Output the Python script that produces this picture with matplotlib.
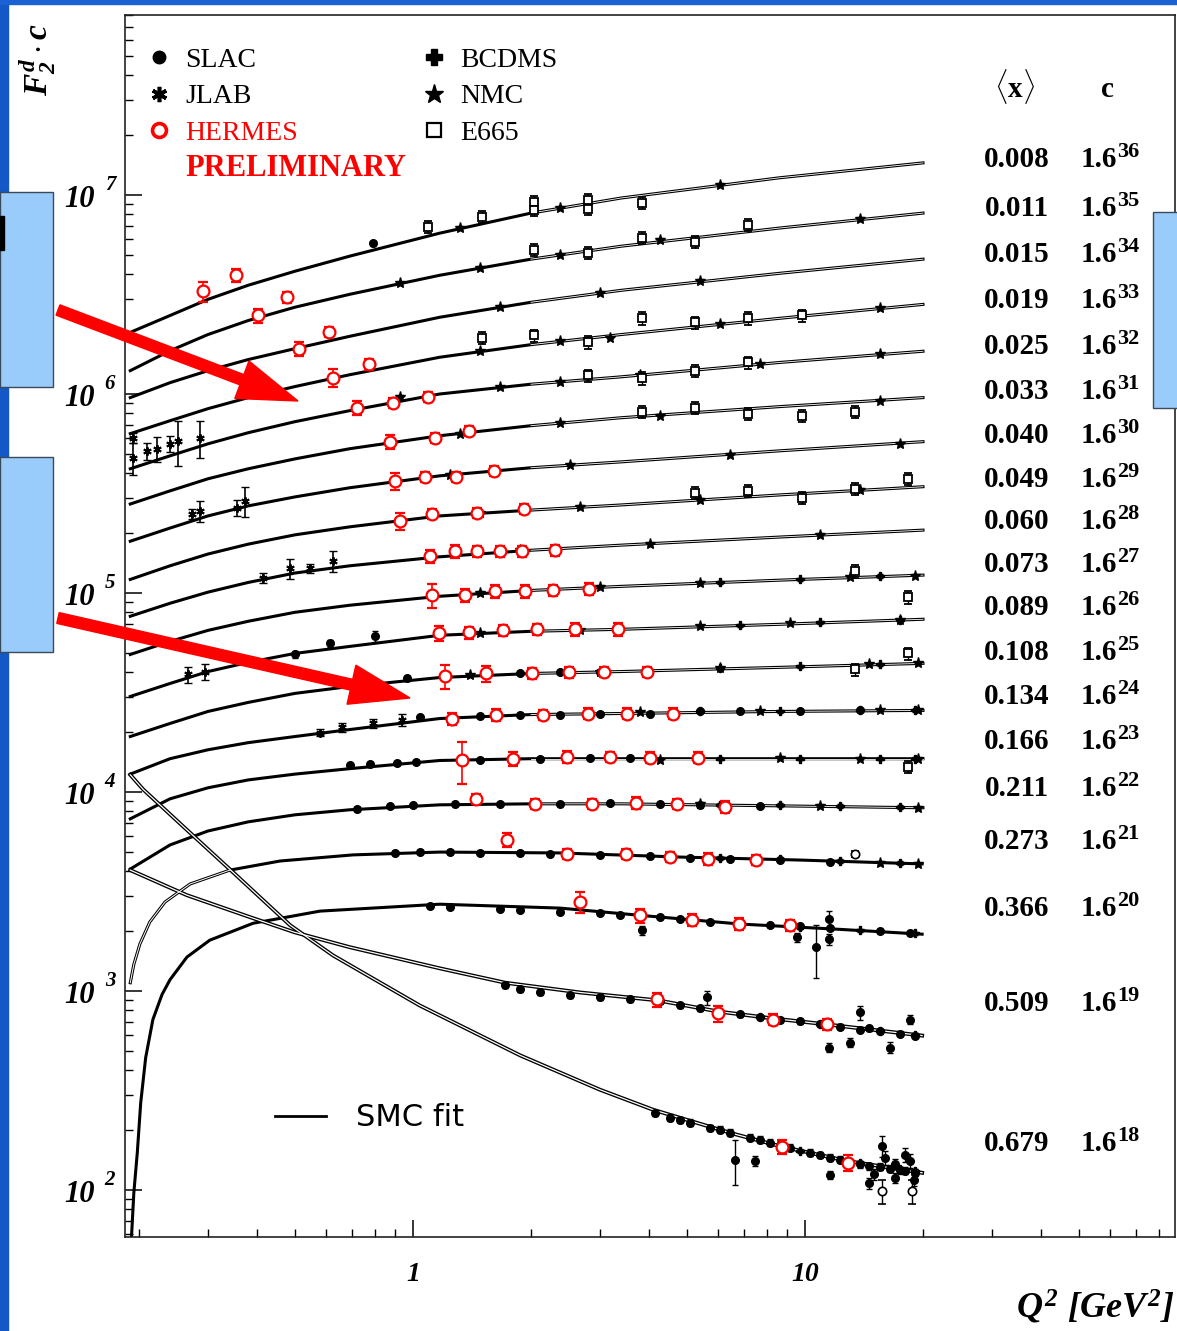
import numpy as np
import matplotlib
matplotlib.use('Agg')
import matplotlib.pyplot as plt
from matplotlib.patches import Rectangle, Polygon
from matplotlib.lines import Line2D
from matplotlib.ticker import NullFormatter
from matplotlib.transforms import Affine2D

plt.rcParams['font.family'] = ['Liberation Serif', 'DejaVu Serif']
plt.rcParams['mathtext.fontset'] = 'custom'
plt.rcParams['mathtext.rm'] = 'Liberation Serif:italic:bold'
plt.rcParams['mathtext.it'] = 'Liberation Serif:italic:bold'
plt.rcParams['mathtext.bf'] = 'Liberation Serif:bold'

# ---- data (F2^d * c versus Q^2) ----
x_bins = ['0.008', '0.011', '0.015', '0.019', '0.025', '0.033', '0.040', '0.049',
          '0.060', '0.073', '0.089', '0.108', '0.134', '0.166', '0.211', '0.273',
          '0.366', '0.509', '0.679']
c_powers = [36, 35, 34, 33, 32, 31, 30, 29, 28, 27, 26, 25, 24, 23, 22, 21, 20, 19, 18]

# SMC fit curves, low x bins on a common Q^2 grid
fit_q2 = [0.19, 0.24, 0.30, 0.38, 0.50, 0.69, 1.17, 2.0, 3.4, 8.6, 20.0]
fit_008 = [2.04e6, 2.48e6, 2.99e6, 3.52e6, 4.14e6, 4.93e6, 6.43e6, 8.11e6, 9.66e6, 1.22e7, 1.45e7]
fit_011 = [1.31e6, 1.65e6, 1.99e6, 2.34e6, 2.73e6, 3.17e6, 3.95e6, 4.76e6, 5.53e6, 6.82e6, 8.11e6]
fit_015 = [9.59e5, 1.14e6, 1.31e6, 1.49e6, 1.69e6, 1.95e6, 2.43e6, 2.89e6, 3.32e6, 4.04e6, 4.76e6]
fit_019 = [6.32e5, 7.34e5, 8.44e5, 9.59e5, 1.09e6, 1.25e6, 1.53e6, 1.77e6, 1.99e6, 2.40e6, 2.82e6]
fit_025 = [4.21e5, 4.89e5, 5.62e5, 6.39e5, 7.26e5, 8.25e5, 1.00e6, 1.12e6, 1.22e6, 1.44e6, 1.64e6]
fit_033 = [2.80e5, 3.26e5, 3.75e5, 4.21e5, 4.72e5, 5.31e5, 6.17e5, 6.93e5, 7.60e5, 8.64e5, 9.59e5]
fit_040 = [1.82e5, 2.12e5, 2.44e5, 2.74e5, 3.04e5, 3.38e5, 3.88e5, 4.26e5, 4.56e5, 5.18e5, 5.76e5]
fit_049 = [1.17e5, 1.37e5, 1.57e5, 1.76e5, 1.96e5, 2.15e5, 2.44e5, 2.61e5, 2.77e5, 3.11e5, 3.42e5]
fit_060 = [7.64e4, 8.88e4, 1.01e5, 1.13e5, 1.26e5, 1.37e5, 1.52e5, 1.64e5, 1.74e5, 1.91e5, 2.07e5]
fit_073 = [4.91e4, 5.71e4, 6.49e4, 7.21e4, 8.00e4, 8.68e4, 9.63e4, 1.03e5, 1.08e5, 1.16e5, 1.23e5]
fit_089 = [3.02e4, 3.51e4, 4.03e4, 4.48e4, 4.97e4, 5.39e4, 6.13e4, 6.42e4, 6.57e4, 6.96e4, 7.38e4]
fit_108 = [1.90e4, 2.21e4, 2.54e4, 2.82e4, 3.13e4, 3.39e4, 3.76e4, 3.94e4, 4.03e4, 4.23e4, 4.43e4]
fit_134 = [1.23e4, 1.47e4, 1.63e4, 1.77e4, 1.90e4, 2.06e4, 2.34e4, 2.45e4, 2.48e4, 2.54e4, 2.57e4]
fit_166 = [7.33e3, 9.24e3, 1.05e4, 1.15e4, 1.23e4, 1.31e4, 1.44e4, 1.47e4, 1.47e4, 1.47e4, 1.47e4]
fit_211 = [4.10e3, 5.42e3, 6.37e3, 7.08e3, 7.68e3, 8.14e3, 8.62e3, 8.72e3, 8.72e3, 8.52e3, 8.33e3]

# high x bins, own Q^2 samples
fit_q2_273 = [0.190, 0.194, 0.201, 0.213, 0.233, 0.270, 0.341, 0.458, 0.703, 1.17, 2.37, 4.80, 9.71, 19.9]
fit_273 = [1.10e3, 1.36e3, 1.72e3, 2.22e3, 2.80e3, 3.45e3, 4.05e3, 4.50e3, 4.83e3, 4.99e3, 4.94e3,
           4.71e3, 4.55e3, 4.35e3]
fit_q2_366 = [0.191, 0.194, 0.198, 0.202, 0.208, 0.217, 0.229, 0.240, 0.265, 0.303, 0.391, 0.579,
              1.17, 2.37, 3.80, 6.83, 12.3, 19.9]
fit_366 = [54.1, 96.6, 154, 274, 463, 719, 961, 1.14e3, 1.48e3, 1.80e3, 2.19e3, 2.52e3,
           2.73e3, 2.61e3, 2.40e3, 2.17e3, 2.04e3, 1.93e3]
fit_q2_509 = [0.190, 0.265, 0.384, 0.500, 0.690, 1.17, 1.72, 2.67, 4.22, 6.00, 8.28, 11.4, 19.9]
fit_509 = [4.05e3, 3.03e3, 2.35e3, 1.97e3, 1.66e3, 1.30e3, 1.10e3, 983, 897, 789, 728, 679, 597]
fit_q2_679 = [0.190, 0.205, 0.265, 0.347, 0.486, 0.625, 1.04, 1.88, 3.00, 4.10, 6.55, 8.74, 12.8, 19.9]
fit_679 = [1.22e4, 1.03e4, 6.45e3, 3.96e3, 2.14e3, 1.51e3, 846, 474, 319, 253, 192, 165, 140, 122]

# HERMES (preliminary)
hermes_q2 = [0.291, 0.353, 0.402, 0.477, 0.512, 0.611, 0.625, 0.772,
             0.720, 0.889, 1.09, 0.874, 1.14, 1.39,
             0.900, 1.07, 1.29, 1.61, 0.927, 1.12, 1.46, 1.92,
             1.105, 1.28, 1.46, 1.67, 1.90, 2.30,
             1.12, 1.36, 1.62, 1.93, 2.28, 2.81,
             1.165, 1.39, 1.70, 2.07, 2.59, 3.33,
             1.21, 1.54, 2.01, 2.50, 3.07, 3.95,
             1.26, 1.63, 2.15, 2.80, 3.52, 4.61,
             1.33, 1.80, 2.47, 3.18, 4.02, 5.33,
             1.45, 2.05, 2.86, 3.71, 4.72, 6.25,
             1.74, 2.47, 3.49, 4.52, 5.66, 7.50,
             2.67, 3.79, 5.15, 6.79, 9.16,
             4.19, 6.00, 8.28, 11.4,
             8.74, 12.9]
hermes_f2c = [3.28e6, 3.95e6, 2.48e6, 3.06e6, 1.69e6, 2.06e6, 1.21e6, 1.41e6,
              8.54e5, 9.05e5, 9.70e5, 5.76e5, 6.03e5, 6.54e5,
              3.66e5, 3.83e5, 3.83e5, 4.11e5, 2.30e5, 2.50e5, 2.52e5, 2.65e5,
              1.53e5, 1.62e5, 1.62e5, 1.62e5, 1.62e5, 1.64e5,
              9.74e4, 9.74e4, 1.02e5, 1.02e5, 1.03e5, 1.05e5,
              6.27e4, 6.34e4, 6.49e4, 6.57e4, 6.57e4, 6.57e4,
              3.81e4, 3.94e4, 3.94e4, 3.99e4, 4.03e4, 4.03e4,
              2.34e4, 2.45e4, 2.45e4, 2.48e4, 2.48e4, 2.48e4,
              1.44e4, 1.47e4, 1.50e4, 1.50e4, 1.49e4, 1.49e4,
              9.24e3, 8.72e3, 8.72e3, 8.82e3, 8.72e3, 8.42e3,
              5.74e3, 4.88e3, 4.88e3, 4.71e3, 4.61e3, 4.55e3,
              2.80e3, 2.40e3, 2.27e3, 2.17e3, 2.14e3,
              907, 771, 719, 679,
              165, 137]
hermes_err = [0.12, 0.08, 0.08, 0.06, 0.08, 0.06, 0.10, 0.06,
              0.08, 0.06, 0.06, 0.08, 0.06, 0.06,
              0.10, 0.06, 0.06, 0.06, 0.10, 0.06, 0.06, 0.06,
              0.08, 0.07, 0.06, 0.06, 0.06, 0.06,
              0.14, 0.07, 0.07, 0.07, 0.06, 0.07,
              0.09, 0.07, 0.06, 0.06, 0.07, 0.07,
              0.14, 0.09, 0.06, 0.06, 0.06, 0.06,
              0.07, 0.07, 0.06, 0.06, 0.06, 0.06,
              0.24, 0.08, 0.07, 0.06, 0.06, 0.06,
              0.06, 0.06, 0.06, 0.07, 0.06, 0.07,
              0.08, 0.06, 0.06, 0.06, 0.07, 0.06,
              0.12, 0.08, 0.07, 0.07, 0.06,
              0.08, 0.09, 0.06, 0.06,
              0.08, 0.09]

# NMC
nmc_q2 = [1.32, 2.37, 6.07,
          0.927, 1.48, 2.37, 4.27, 13.8,
          1.67, 3.00, 5.40,
          1.48, 2.37, 3.18, 6.07, 15.5,
          0.927, 1.67, 2.37, 3.79, 7.68, 15.5,
          1.32, 2.37, 4.27, 15.5,
          1.24, 2.52, 6.44, 17.5,
          1.48, 2.67, 5.40, 13.8,
          1.88, 4.02, 10.9,
          1.48, 3.00, 5.40, 13.0, 19.1,
          1.48, 2.67, 5.40, 9.16, 17.5,
          1.40, 3.00, 6.07, 14.6, 19.4,
          3.79, 7.68, 15.5, 19.4,
          4.27, 8.63, 13.8, 19.4,
          5.40, 10.9, 19.4,
          15.5, 19.4]
nmc_f2c = [6.82e6, 8.60e6, 1.12e7,
           3.60e6, 4.29e6, 4.99e6, 5.93e6, 7.57e6,
           2.73e6, 3.21e6, 3.69e6,
           1.64e6, 1.84e6, 1.92e6, 2.24e6, 2.69e6,
           9.70e5, 1.08e6, 1.15e6, 1.25e6, 1.41e6, 1.58e6,
           6.32e5, 7.17e5, 7.78e5, 9.26e5,
           3.92e5, 4.41e5, 4.95e5, 5.62e5,
           2.52e5, 2.71e5, 2.94e5, 3.30e5,
           1.64e5, 1.76e5, 1.96e5,
           9.98e4, 1.07e5, 1.12e5, 1.20e5, 1.22e5,
           6.27e4, 6.49e4, 6.80e4, 7.04e4, 7.29e4,
           3.85e4, 4.03e4, 4.18e4, 4.38e4, 4.43e4,
           2.51e4, 2.54e4, 2.57e4, 2.57e4,
           1.45e4, 1.49e4, 1.47e4, 1.47e4,
           8.72e3, 8.52e3, 8.33e3,
           4.40e3, 4.35e3]

# BCDMS
bcdms_q2 = [6.07, 9.71, 15.5, 6.83, 10.9, 17.5, 6.07, 9.71, 15.5,
            5.40, 8.63, 13.8, 19.1, 6.07, 9.71, 15.5, 19.1,
            6.07, 8.63, 12.3, 17.5, 6.07, 8.63, 12.3, 17.5,
            6.83, 9.71, 13.8, 19.1, 7.68, 10.9, 15.5, 19.1,
            9.71, 13.8, 17.5, 19.1]
bcdms_f2c = [1.13e5, 1.17e5, 1.22e5, 6.88e4, 7.13e4, 7.29e4, 4.18e4, 4.28e4, 4.38e4,
             2.54e4, 2.54e4, 2.57e4, 2.57e4, 1.47e4, 1.47e4, 1.47e4, 1.47e4,
             8.62e3, 8.62e3, 8.52e3, 8.42e3, 4.66e3, 4.61e3, 4.50e3, 4.40e3,
             2.17e3, 2.09e3, 2.02e3, 1.95e3, 736, 686, 633, 604,
             157, 137, 128, 125]

# E665
e665_q2 = [1.09, 1.50, 2.04, 2.04, 2.80, 2.80, 3.84,
           2.04, 2.80, 3.84, 5.24, 7.16,
           1.50, 2.04, 2.80, 3.84, 5.24, 7.16, 9.82,
           2.80, 3.84, 5.24, 7.16,
           3.84, 5.24, 7.16, 9.82, 13.4,
           5.24, 7.16, 9.82, 13.4, 18.3,
           13.4, 18.3, 13.4, 18.3, 18.3]
e665_f2c = [6.90e6, 7.75e6, 9.22e6, 8.40e6, 9.44e6, 8.50e6, 9.11e6,
            5.28e6, 5.10e6, 6.07e6, 5.80e6, 7.06e6,
            1.92e6, 1.97e6, 1.82e6, 2.40e6, 2.29e6, 2.40e6, 2.48e6,
            1.24e6, 1.20e6, 1.31e6, 1.44e6,
            8.15e5, 8.54e5, 7.96e5, 7.78e5, 8.15e5,
            3.18e5, 3.26e5, 3.00e5, 3.34e5, 3.75e5,
            1.29e5, 9.52e4, 4.13e4, 4.97e4, 1.34e4]

# JLAB
jlab_q2 = [0.193, 0.193, 0.210, 0.222, 0.240, 0.252, 0.286,
           0.273, 0.286, 0.356, 0.373,
           0.414, 0.486, 0.546, 0.625,
           0.267, 0.295,
           0.579, 0.659, 0.791, 0.937]
jlab_f2c = [4.78e5, 6.03e5, 5.18e5, 5.31e5, 5.62e5, 5.82e5, 6.03e5,
            2.50e5, 2.58e5, 2.68e5, 2.90e5,
            1.19e5, 1.33e5, 1.33e5, 1.45e5,
            3.90e4, 4.03e4,
            1.99e4, 2.11e4, 2.21e4, 2.31e4]
jlab_err = [0.18, 0.06, 0.10, 0.14, 0.09, 0.25, 0.21,
            0.06, 0.12, 0.09, 0.17,
            0.06, 0.12, 0.05, 0.12,
            0.09, 0.09,
            0.04, 0.05, 0.05, 0.07]

# SLAC
slac_q2 = [0.791,
           0.500, 0.614, 0.800,
           0.651, 0.965, 1.88, 2.37, 3.00,
           1.04, 1.48, 1.88, 2.37, 3.00, 4.02, 5.40, 6.83, 9.71, 13.8,
           0.690, 0.777, 0.910, 1.02, 1.48, 2.11, 2.83, 3.58,
           0.720, 0.874, 1.00, 1.28, 1.67, 2.37, 3.18, 4.27, 5.40, 7.68,
           0.900, 1.04, 1.24, 1.48, 1.88, 2.24, 3.00, 4.02, 5.09, 6.44, 8.63, 11.6,
           1.105, 1.24, 1.67, 1.88, 2.37, 3.00, 3.37, 4.27, 4.80, 5.72, 6.83, 8.14, 9.71, 11.6,
           15.5, 18.5, 3.84, 9.54, 10.7, 11.5, 11.5,
           1.72, 2.11, 2.52, 3.00, 3.58, 4.80, 5.40, 6.83, 7.68, 9.71, 12.3, 13.8, 15.5, 17.5,
           19.1, 5.62, 16.5, 13.0, 11.5, 18.5, 13.8,
           1.88, 4.27, 6.07, 8.63, 10.9, 14.6,
           4.14, 4.52, 5.09, 5.72, 6.44, 7.24, 8.14, 9.16, 10.3, 11.6, 13.0, 14.6, 16.5, 18.0,
           19.1, 6.63, 7.46, 15.7, 14.6, 11.6, 17.0,
           4.80, 6.07, 7.68, 8.63, 10.9, 12.3, 13.8, 15.5, 17.5,
           16.0, 18.5, 17.0, 19.0, 15.0, 18.0]
slac_f2c = [5.73e6,
            4.91e4, 5.58e4, 6.06e4,
            3.47e4, 3.72e4, 3.94e4, 3.99e4, 4.03e4,
            2.37e4, 2.42e4, 2.45e4, 2.45e4, 2.48e4, 2.48e4, 2.54e4, 2.54e4, 2.55e4, 2.57e4,
            1.36e4, 1.39e4, 1.40e4, 1.42e4, 1.45e4, 1.47e4, 1.49e4, 1.49e4,
            8.23e3, 8.52e3, 8.62e3, 8.72e3, 8.72e3, 8.72e3, 8.82e3, 8.72e3, 8.62e3, 8.52e3,
            4.94e3, 4.99e3, 4.99e3, 4.94e3, 4.94e3, 4.88e3, 4.83e3, 4.77e3, 4.66e3, 4.61e3,
            4.55e3, 4.45e3,
            2.67e3, 2.64e3, 2.58e3, 2.55e3, 2.49e3, 2.46e3, 2.40e3, 2.35e3, 2.30e3, 2.22e3,
            2.19e3, 2.14e3, 2.12e3, 2.07e3,
            2.00e3, 1.95e3, 2.02e3, 1.86e3, 1.66e3, 2.30e3, 1.82e3,
            1.07e3, 983, 950, 928, 907, 846, 817, 762, 736, 703, 663, 640, 626, 611,
            597, 928, 520, 551, 520, 719, 780,
            1.02e3, 887, 780, 719, 686, 648,
            244, 231, 218, 205, 194, 183, 173, 163, 154, 145, 137, 132, 128, 125,
            122, 142, 140, 167, 108, 119, 115,
            225, 201, 179, 169, 150, 142, 135, 131, 126,
            145, 140, 135, 112, 120, 150]
slac_err = [0.03,
            0.04, 0.04, 0.06,
            0.03, 0.03, 0.02, 0.02, 0.02,
            0.02, 0.02, 0.02, 0.02, 0.02, 0.02, 0.02, 0.02, 0.02, 0.02,
            0.02, 0.02, 0.02, 0.02, 0.02, 0.02, 0.02, 0.02,
            0.02, 0.02, 0.02, 0.02, 0.02, 0.02, 0.02, 0.02, 0.02, 0.02,
            0.02, 0.02, 0.02, 0.02, 0.02, 0.02, 0.02, 0.02, 0.02, 0.02, 0.02, 0.02,
            0.02, 0.02, 0.02, 0.02, 0.02, 0.02, 0.02, 0.02, 0.02, 0.02, 0.02, 0.02, 0.02, 0.02,
            0.02, 0.02, 0.05, 0.05, 0.30, 0.10, 0.06,
            0.03, 0.03, 0.03, 0.03, 0.03, 0.03, 0.03, 0.03, 0.03, 0.03, 0.03, 0.03, 0.03, 0.03,
            0.03, 0.08, 0.06, 0.05, 0.05, 0.05, 0.08,
            0.03, 0.03, 0.03, 0.03, 0.03, 0.03,
            0.04, 0.04, 0.04, 0.04, 0.04, 0.04, 0.04, 0.04, 0.04, 0.04, 0.04, 0.04, 0.04, 0.04,
            0.04, 0.25, 0.06, 0.12, 0.06, 0.05, 0.06,
            0.04, 0.04, 0.04, 0.04, 0.04, 0.04, 0.04, 0.04, 0.04,
            0.08, 0.08, 0.06, 0.06, 0.06, 0.08]

# a few open-circle points
open_q2 = [15.7, 18.7, 13.4]
open_f2c = [98.9, 98.9, 4.88e3]
open_err = [0.14, 0.14, 0.03]

# ---- layout (pixels of the 1177x1331 picture) ----
W, H = 1177, 1331
row_y = [157, 206, 252, 298, 344, 389, 433, 477, 519, 562, 605, 650, 694, 739, 786, 839, 906, 1001, 1141]

fig = plt.figure(figsize=(W / 100, H / 100), dpi=100)
fig.patch.set_facecolor('white')
ax = fig.add_axes([125 / W, 1 - 1237 / H, 1050 / W, 1222 / H])
ax.set_xscale('log')
ax.set_yscale('log')
ax.set_xlim(0.1842, 87.9)
ax.set_ylim(10 ** 1.7638, 10 ** 7.9045)

# fit curves (the error band shows as a double line where it opens up)
low_fits = [fit_008, fit_011, fit_015, fit_019, fit_025, fit_033, fit_040, fit_049,
            fit_060, fit_073, fit_089, fit_108, fit_134, fit_166, fit_211]
for f in low_fits:
    ax.plot(fit_q2, f, color='k', lw=2.2, zorder=2)
    ax.plot(fit_q2[7:], f[7:], color='white', lw=0.6, zorder=2.1)
for q, f in [(fit_q2_273, fit_273), (fit_q2_366, fit_366)]:
    ax.plot(q, f, color='k', lw=2.2, zorder=2)
ax.plot(fit_q2_273[:7], fit_273[:7], color='white', lw=0.7, zorder=2.1)
for q, f in [(fit_q2_509, fit_509), (fit_q2_679, fit_679)]:
    ax.plot(q, f, color='k', lw=2.8, zorder=2)
    ax.plot(q, f, color='white', lw=0.9, zorder=2.1)

# data points
def rel(v, e):
    return np.array(v) * np.array(e)

ax.errorbar(slac_q2, slac_f2c, yerr=rel(slac_f2c, slac_err), fmt='o', color='k', ms=5.5,
            elinewidth=1.0, capsize=2.5, zorder=3)
ax.errorbar(jlab_q2, jlab_f2c, yerr=rel(jlab_f2c, jlab_err), fmt='none', ecolor='k',
            elinewidth=1.2, capsize=3, zorder=3)
ax.plot(jlab_q2, jlab_f2c, ls='none', marker=(6, 2, 0), color='k', ms=6, mew=1.4, zorder=3)
ax.errorbar(nmc_q2, nmc_f2c, yerr=rel(nmc_f2c, [0.02] * len(nmc_f2c)), fmt='*', color='k', ms=8,
            elinewidth=1.0, capsize=2.5, zorder=3)
ax.errorbar(bcdms_q2, bcdms_f2c, yerr=rel(bcdms_f2c, [0.02] * len(bcdms_f2c)), fmt='P', color='k',
            ms=6, elinewidth=1.0, capsize=2.5, zorder=3)
ax.errorbar(e665_q2, e665_f2c, yerr=rel(e665_f2c, [0.07] * len(e665_f2c)), fmt='s', mfc='white',
            mec='k', ecolor='k', ms=6, mew=1.3, elinewidth=1.0, capsize=3, zorder=3)
ax.errorbar(open_q2, open_f2c, yerr=rel(open_f2c, open_err), fmt='o', mfc='white', mec='k',
            ecolor='k', ms=6, mew=1.2, elinewidth=1.0, capsize=3, zorder=3)
ax.errorbar(hermes_q2, hermes_f2c, yerr=rel(hermes_f2c, hermes_err), fmt='o', mfc='white',
            mec='red', ecolor='red', ms=8.5, mew=1.6, elinewidth=1.2, capsize=3.5, zorder=4)

# axes styling
for s in ax.spines.values():
    s.set_linewidth(1.2)
    s.set_color('#222222')
ax.tick_params(which='major', direction='in', length=12, width=1.1, top=False, right=False,
               labelleft=False, labelbottom=False)
ax.tick_params(which='minor', direction='in', length=6, width=1.0, top=False, right=False)
ax.xaxis.set_major_formatter(NullFormatter())
ax.xaxis.set_minor_formatter(NullFormatter())
ax.yaxis.set_major_formatter(NullFormatter())
ax.yaxis.set_minor_formatter(NullFormatter())

# tick labels in the original style (10 with raised exponent)
ytr = ax.get_yaxis_transform()
for k in range(2, 8):
    ax.annotate('10', xy=(-0.0429, 10 ** k), xycoords=ytr, xytext=(0, -8.6),
                textcoords='offset points', ha='center', va='baseline', fontsize=22,
                style='italic', fontweight='bold', annotation_clip=False)
    ax.annotate(str(k), xy=(-0.0143, 10 ** k), xycoords=ytr, xytext=(0, 3.6),
                textcoords='offset points', ha='center', va='baseline', fontsize=15,
                style='italic', fontweight='bold', annotation_clip=False)
xtr = ax.get_xaxis_transform()
for v, s in [(1, '1'), (10, '10')]:
    ax.annotate(s, xy=(v, 0), xycoords=xtr, xytext=(0, -32), textcoords='offset points',
                ha='center', va='baseline', fontsize=20, style='italic', fontweight='bold',
                annotation_clip=False)

# legends
handles = [Line2D([], [], ls='none', marker='o', color='k', ms=9),
           Line2D([], [], ls='none', marker=(6, 2, 0), color='k', ms=11, mew=2.6),
           Line2D([], [], ls='none', marker='o', mfc='white', mec='red', ms=10, mew=2.6),
           Line2D([], [], ls='none', marker='P', color='k', ms=11),
           Line2D([], [], ls='none', marker='*', color='k', ms=14),
           Line2D([], [], ls='none', marker='s', mfc='white', mec='k', ms=10, mew=1.6)]
leg = ax.legend(handles, ['SLAC', 'JLAB', 'HERMES', 'BCDMS', 'NMC', 'E665'], ncol=2,
                loc='upper left', bbox_to_anchor=(0.019, 0.9735), frameon=False,
                prop={'family': 'Liberation Serif', 'size': 20}, handlelength=1.0,
                handletextpad=0.45, columnspacing=4.4, labelspacing=0.40, borderpad=0,
                borderaxespad=0)
leg.get_texts()[2].set_color('red')
ax.add_artist(leg)
ax.legend([Line2D([], [], color='k', lw=2)], ['SMC fit'], loc='center left',
          bbox_to_anchor=(0.143, 0.0974), frameon=False, prop={'family': 'DejaVu Sans', 'size': 22},
          handlelength=1.65, handletextpad=1.0, borderpad=0, borderaxespad=0)

def fpos(px, py):
    return px / W, 1 - py / H

fig.text(*fpos(185, 176), 'PRELIMINARY', color='red', fontweight='bold', fontsize=22, va='baseline')

# right-hand columns: <x> and c
fig.text(*fpos(1015, 97), r'$\langle\mathbf{x}\rangle$', ha='center', va='baseline', fontsize=21)
fig.text(*fpos(1107, 97), 'c', ha='center', va='baseline', fontsize=21, fontweight='bold')
for xb, cp, yy in zip(x_bins, c_powers, row_y):
    fig.text(*fpos(1017, yy + 10), xb, ha='center', va='baseline', fontsize=21, fontweight='bold')
    fig.text(*fpos(1081, yy + 10), '1.6', ha='left', va='baseline', fontsize=21, fontweight='bold')
    fig.text(*fpos(1117, yy), str(cp), ha='left', va='baseline', fontsize=16, fontweight='bold')

# axis titles
fig.text(*fpos(1175, 1318), r'$Q^2\ [GeV^2]$', ha='right', va='baseline', fontsize=26)
fig.text(*fpos(38, 60), r'$F_2^d\cdot c$', rotation=90, ha='center', va='center', fontsize=24)

# slide decorations: blue frame strips, boxes and red arrows
pix = Affine2D().scale(1 / W, -1 / H).translate(0, 1) + fig.transFigure
fig.patches.append(Rectangle((0, 0), 8, H, transform=pix, color='#1358c6', zorder=5))
fig.patches.append(Rectangle((0, 0), W, 4, transform=pix, color='#1a62d4', zorder=5))
for x0, y0, w, h in [(0, 192, 53, 195), (0, 457, 53, 195), (1153, 212, 30, 196)]:
    fig.patches.append(Rectangle((x0, y0), w, h, transform=pix, facecolor='#9accfb',
                                 edgecolor='#3a4a5a', lw=1.0, zorder=6))
fig.patches.append(Rectangle((0, 216), 4, 34, transform=pix, color='black', zorder=7))


def arrow_poly(x0, y0, x1, y1, shaft=11, head_w=40, head_l=60):
    d = np.array([x1 - x0, y1 - y0], dtype=float)
    u = d / np.hypot(*d)
    n = np.array([-u[1], u[0]])
    p0 = np.array([x0, y0], dtype=float)
    tip = np.array([x1, y1], dtype=float)
    base = tip - u * head_l
    return [p0 + n * shaft / 2, base + n * shaft / 2, base + n * head_w / 2, tip,
            base - n * head_w / 2, base - n * shaft / 2, p0 - n * shaft / 2]


for a in [(58, 310, 298, 401), (58, 618, 410, 698)]:
    fig.patches.append(Polygon(arrow_poly(*a), closed=True, transform=pix, color='#ff0000', zorder=8))

fig.savefig('out.png', dpi=100)
